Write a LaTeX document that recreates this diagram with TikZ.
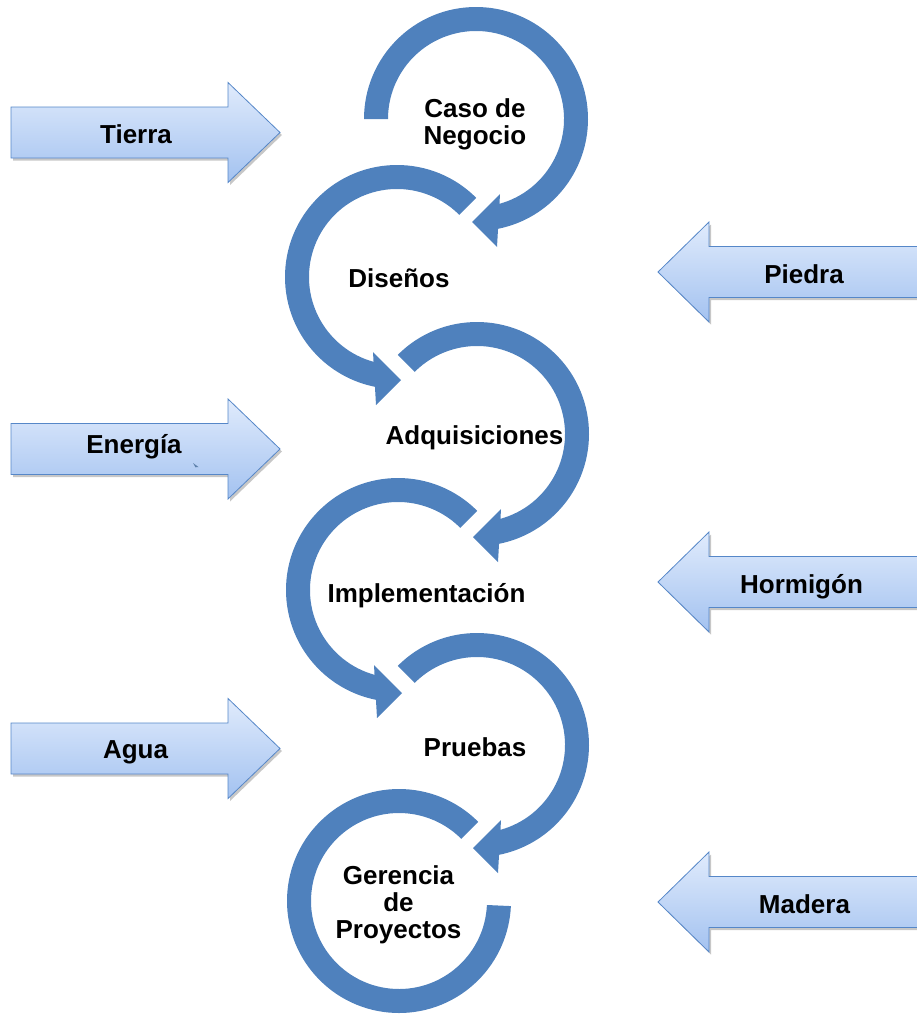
\documentclass[tikz,border=0pt]{standalone}
\usepackage{fontspec}
\setmainfont{Liberation Sans}
\begin{document}
\begin{tikzpicture}[x=1pt,y=-1pt]
\definecolor{ringblue}{RGB}{79,129,189}
\definecolor{boxtop}{RGB}{224,235,252}
\definecolor{boxbot}{RGB}{163,194,240}
\definecolor{boxline}{RGB}{86,135,200}
\tikzset{
  txt/.style={font=\fontsize{26}{27}\selectfont\bfseries, align=center, text=black, inner sep=0pt},
  sidearrow/.style={draw=boxline, line width=0.8pt, top color=boxtop, bottom color=boxbot},
  sideshadow/.style={fill=black, fill opacity=0.22},
  ringfill/.style={fill=ringblue}
}
\useasboundingbox (0,0) rectangle (917,1015);
\clip (0,0) rectangle (917,1015);

% block arrow pointing right, centred on the given height
\newcommand{\inArrowRight}[1]{%
  \begin{scope}[shift={(0,#1)}]
    \fill[sideshadow] (13,-23) -- (230,-23) -- (230,-47.5) -- (282,2.5) -- (230,52.5) -- (230,28) -- (13,28) -- cycle;
    \path[sidearrow] (11,-25.5) -- (228,-25.5) -- (228,-50) -- (280,0) -- (228,50) -- (228,25.5) -- (11,25.5) -- cycle;
  \end{scope}}
% block arrow pointing left, running off the right edge
\newcommand{\inArrowLeft}[1]{%
  \begin{scope}[shift={(0,#1)}]
    \fill[sideshadow] (952,-23) -- (711,-23) -- (711,-47.5) -- (660,2.5) -- (711,52.5) -- (711,28) -- (952,28) -- cycle;
    \path[sidearrow] (950,-25.5) -- (709,-25.5) -- (709,-50) -- (658,0) -- (709,50) -- (709,25.5) -- (950,25.5) -- cycle;
  \end{scope}}
% thick circular arrow, clockwise from the start angle, head at the bottom
\newcommand{\ringArrow}[1]{%
  \fill[ringfill] (#1:112) arc[start angle=#1, end angle=438.65, radius=112]
    -- (21,128) -- (-4,103) -- (24,75) -- (434.54:88)
    arc[start angle=434.54, end angle=#1, radius=88] -- cycle;}

% side inputs
\inArrowRight{132.5}
\inArrowRight{449}
\inArrowRight{748.5}
\inArrowLeft{272}
\inArrowLeft{582}
\inArrowLeft{902}

% small mark on the Energia arrow
\fill[ringblue!70!gray] (193,463) -- (198.5,467) -- (195.5,467.3) -- cycle;

% chain of circular arrows
\begin{scope}[shift={(476,119)}] \ringArrow{180} \end{scope}
\begin{scope}[shift={(397,277)}, xscale=-1] \ringArrow{225} \end{scope}
\begin{scope}[shift={(477,434)}] \ringArrow{225} \end{scope}
\begin{scope}[shift={(398,590)}, xscale=-1] \ringArrow{225} \end{scope}
\begin{scope}[shift={(477,745)}] \ringArrow{225} \end{scope}
\begin{scope}[shift={(399,901)}, xscale=-1]
  \fill[ringfill] (225:112) arc[start angle=225, end angle=537.4, radius=112]
    -- (537.4:88) arc[start angle=537.4, end angle=225, radius=88] -- cycle;
\end{scope}

% stage labels
\node[txt] (caso) at (475,124.5) {Caso de\\Negocio};
\node[txt, anchor=base] (disenos) at (399,287) {Diseños};
\node[txt, anchor=base] (adq) at (474.5,444) {Adquisiciones};
\node[txt, anchor=base] (impl) at (426.5,602) {Implementación};
\node[txt, anchor=base] (pruebas) at (475,756) {Pruebas};
\node[txt] (gerencia) at (398.5,904.5) {Gerencia\\de\\Proyectos};

% input labels
\node[txt, anchor=base] (tierra) at (136,143) {Tierra};
\node[txt, anchor=base] (energia) at (134,453) {Energía};
\node[txt, anchor=base] (agua) at (135.5,758) {Agua};
\node[txt, anchor=base] (piedra) at (804,283) {Piedra};
\node[txt, anchor=base] (hormigon) at (801.5,593) {Hormigón};
\node[txt, anchor=base] (madera) at (804.5,913) {Madera};
\end{tikzpicture}
\end{document}
